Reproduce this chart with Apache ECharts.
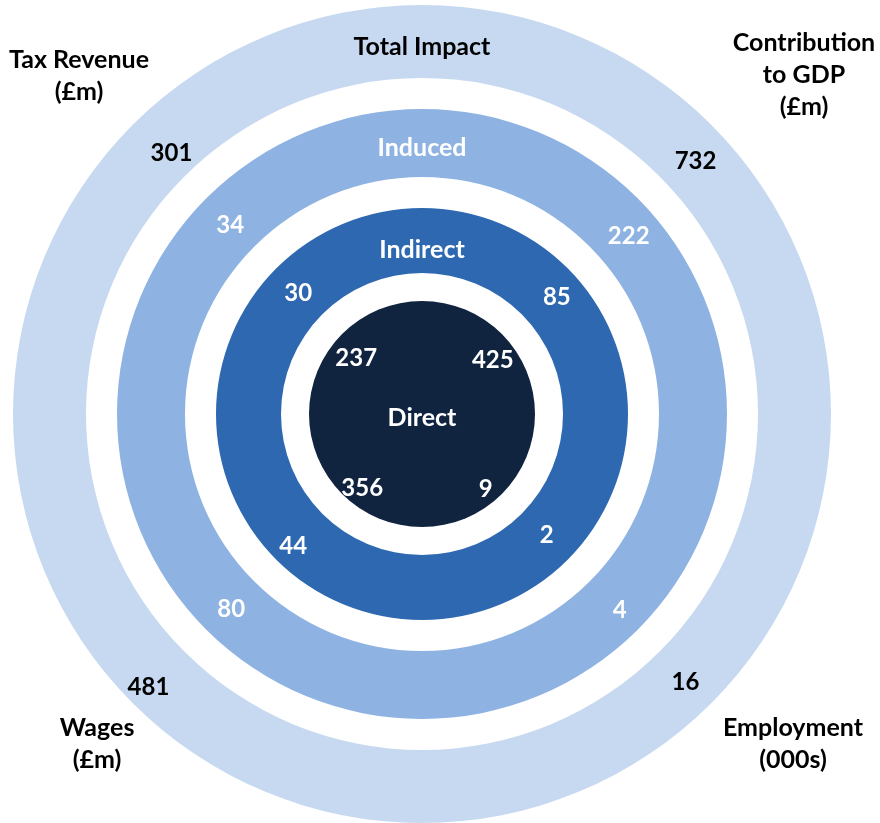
<!DOCTYPE html>
<html>
<head>
<meta charset="utf-8">
<script src="https://cdn.jsdelivr.net/npm/echarts@6/dist/echarts.min.js"></script>
<style>
html,body{margin:0;padding:0;background:#fff;}
#chart{width:880px;height:823px;}
</style>
</head>
<body>
<div id="chart"></div>
<script>
// ---- data ----
const ringNames = ['Direct', 'Indirect', 'Induced', 'Total Impact'];
// clockwise from top: upper-right, lower-right, lower-left, upper-left
const metrics = ['Contribution to GDP (£m)', 'Employment (000s)', 'Wages (£m)', 'Tax Revenue (£m)'];
const metricLabels = ['Contribution\nto GDP\n(£m)', 'Employment\n(000s)', 'Wages\n(£m)', 'Tax Revenue\n(£m)'];
const directValues = [425, 9, 356, 237];
const indirectValues = [85, 2, 44, 30];
const inducedValues = [222, 4, 80, 34];
const totalValues = [732, 16, 481, 301];

// ---- style ----
const FONT = 'Lato, "Open Sans", sans-serif';
const FS = 24;
const FS_TEXT = 25;
const CX = 422, CY = 414;
const ringValues = [directValues, indirectValues, inducedValues, totalValues];
const ringRadius = [[0, 113], [141, 206], [237, 305], [336, 409]];
const numberRadius = [[70, 113], [141, 206], [237, 305], [336, 409]];
const ringColors = ['#10243F', '#2E68B1', '#8EB3E2', '#C6D9F1'];
const textColors = ['#FFFFFF', '#FFFFFF', '#FFFFFF', '#000000'];
const titleOffsets = [[0, 4], [0, 12], [0, 8], [0, 8]];
const numberOffsets = [
  [[4, 13], [-3, 8], [7, 7], [1, 11]],
  [[10, 8], [0, -4], [-4, 7], [1, 4]],
  [[13, 16], [4, 3], [3, 2], [2, 5]],
  [[8, 13], [-2, 3], [-8, 8], [15, 5]]
];

const series = [];
ringNames.forEach((name, i) => {
  series.push({
    type: 'pie',
    silent: true,
    center: [CX, CY],
    radius: ringRadius[i],
    startAngle: 270,
    clockwise: true,
    avoidLabelOverlap: false,
    animation: false,
    emphasis: {disabled: true},
    labelLine: {show: false},
    itemStyle: {color: ringColors[i], borderWidth: 0},
    label: {
      show: true,
      position: i === 0 ? 'center' : 'inside',
      formatter: '{b}',
      color: textColors[i],
      offset: titleOffsets[i],
      fontFamily: FONT, fontWeight: 'bold', fontSize: FS_TEXT
    },
    data: [{name: name, value: 1}]
  });
  series.push({
    type: 'pie',
    silent: true,
    center: [CX, CY],
    radius: numberRadius[i],
    startAngle: 90,
    clockwise: true,
    avoidLabelOverlap: false,
    animation: false,
    emphasis: {disabled: true},
    labelLine: {show: false},
    itemStyle: {color: 'rgba(0,0,0,0)', borderWidth: 0},
    label: {
      show: true,
      position: 'inside',
      formatter: (p) => String(ringValues[i][p.dataIndex]),
      color: textColors[i],
      fontFamily: FONT, fontWeight: 'bold', fontSize: FS
    },
    data: metrics.map((m, j) => ({name: m, value: 1, label: {offset: numberOffsets[i][j]}}))
  });
});

const cornerPos = [[804, 75], [793, 744], [97, 744], [79, 76]];
const graphic = metricLabels.map((t, j) => ({
  type: 'text',
  x: cornerPos[j][0],
  y: cornerPos[j][1],
  silent: true,
  style: {
    text: t,
    fill: '#000',
    font: 'bold ' + FS_TEXT + 'px ' + FONT,
    textAlign: 'center',
    textVerticalAlign: 'middle',
    lineHeight: 32
  }
}));

const chart = echarts.init(document.getElementById('chart'), null, {renderer: 'canvas'});
chart.setOption({
  animation: false,
  backgroundColor: '#fff',
  series: series,
  graphic: graphic
});
</script>
</body>
</html>
